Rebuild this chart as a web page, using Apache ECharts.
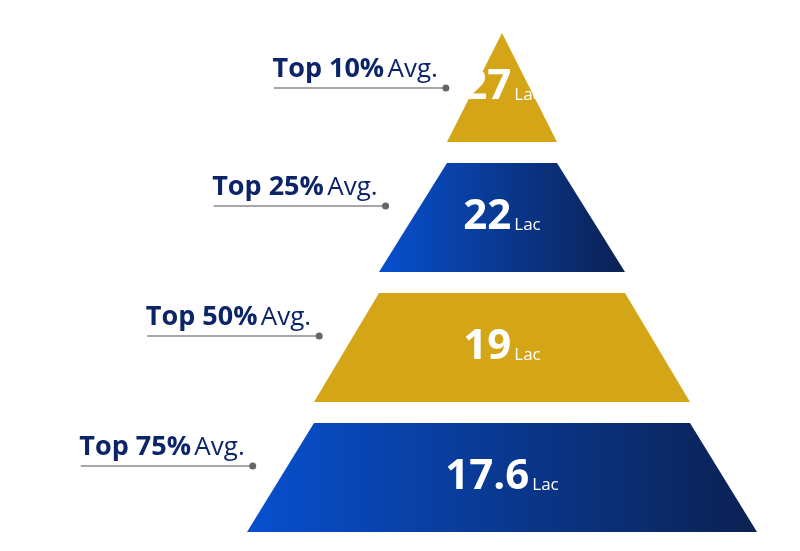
<!DOCTYPE html>
<html><head><meta charset="utf-8">
<script src="https://cdn.jsdelivr.net/npm/echarts@6/dist/echarts.min.js"></script>
<style>html,body{margin:0;padding:0;background:#fff}#c{width:800px;height:551px}</style>
</head><body><div id="c"></div>
<script>
const levels = ['Top 10%', 'Top 25%', 'Top 50%', 'Top 75%'];
const salaries = ['27', '22', '19', '17.6'];
const units = ['Lac', 'Lac', 'Lac', 'Lac'];
const widths = [110, 246, 376, 510]; // bottom width of each band (funnel value)

const L = 247, W = 510, T = 33, H = 499, GAP = 21;
const segH = (H - GAP * 3) / 4;
const cx = L + W / 2;
const navy = '#0c2468';
const blueGrad = new echarts.graphic.LinearGradient(0, 0, 1, 0, [
  { offset: 0, color: '#0750cf' }, { offset: 1, color: '#0b2152' }]);
const gold = '#d4a516';

const data = levels.map((n, i) => ({
  name: n, value: widths[i],
  itemStyle: { color: i % 2 === 0 ? gold : blueGrad },
  label: { offset: i === 0 ? [6, 28] : [6, 0] }
}));

const graphic = [];
levels.forEach((n, i) => {
  const segTop = T + i * (segH + GAP);
  const y = segTop + (i === 0 ? 55 : 43);
  const half = (y - T) * (W / 2) / H;
  const dotX = cx - half - 28;
  graphic.push({ type: 'line', shape: { x1: dotX - 172, y1: y, x2: dotX, y2: y },
    style: { stroke: '#888', lineWidth: 1.5 } });
  graphic.push({ type: 'circle', shape: { cx: dotX, cy: y, r: 3.5 }, style: { fill: '#666' } });
  graphic.push({ type: 'text', x: dotX - 8, y: y - 5,
    style: { text: '{b|' + n + '} {a|Avg.}', align: 'right', verticalAlign: 'bottom',
      rich: { b: { fontSize: 27, fontWeight: 'bold', fill: navy, fontFamily: 'Open Sans' },
              a: { fontSize: 26, fill: navy, fontFamily: 'Open Sans' } } } });
});

const chart = echarts.init(document.getElementById('c'));
chart.setOption({
  animation: false,
  graphic: graphic,
  series: [{
    type: 'funnel', sort: 'ascending', left: L, top: T, width: W, height: H,
    gap: GAP, min: 0, max: 510, minSize: '0%', maxSize: '100%',
    itemStyle: { borderWidth: 0 },
    label: {
      position: 'inside',
      formatter: p => '{n|' + salaries[p.dataIndex] + '}{u|' + units[p.dataIndex] + '}',
      rich: {
        n: { fontSize: 42, fontWeight: 'bold', color: '#fff', fontFamily: 'Open Sans' },
        u: { fontSize: 17, color: '#fff', padding: [16, 0, 0, 3], fontFamily: 'Open Sans' }
      }
    },
    labelLine: { show: false },
    data: data
  }]
});
</script></body></html>
